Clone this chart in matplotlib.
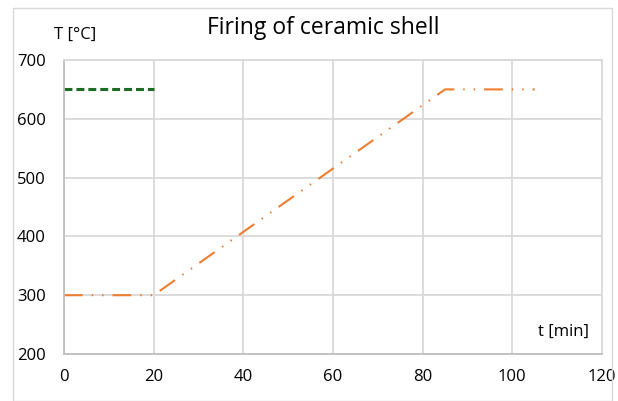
import matplotlib.pyplot as plt
from matplotlib.patches import Rectangle

# firing schedule
t_min = [0, 20, 85, 105]
temp_c = [300, 300, 650, 650]

# target temperature reference line
t_ref = [0, 20]
temp_ref = [650, 650]

x_ticks = [0, 20, 40, 60, 80, 100, 120]
y_ticks = [200, 300, 400, 500, 600, 700]

plt.rcParams['font.family'] = ['Open Sans', 'DejaVu Sans']

fig = plt.figure(figsize=(6.18, 4.01), dpi=100)
ax = fig.add_axes([64 / 618, 1 - 354 / 401, (602 - 64) / 618, (354 - 60) / 401])

# chart frame like an Excel chart area
fig.patches.append(Rectangle((13 / 618, 0.0), (612 - 13) / 618, 1 - 8 / 401,
                             transform=fig.transFigure, fill=False,
                             edgecolor='#d9d9d9', linewidth=1.0))

ax.plot(t_min, temp_c, color='#ed7d31', linewidth=1.5,
        linestyle=(0, (9, 4.3, 0.7, 4.3, 0.7, 4.3)))
ax.plot(t_ref, temp_ref, color='#1e6b24', linewidth=2.2,
        linestyle=(0, (2.6, 1.3)))

ax.set_xlim(0, 120)
ax.set_ylim(200, 700)
ax.set_xticks(x_ticks)
ax.set_yticks(y_ticks)
ax.tick_params(length=0, labelsize=12, pad=11, colors='#000000')
ax.tick_params(axis='y', pad=13)
ax.grid(True, color='#d9d9d9', linewidth=1.3)
ax.set_axisbelow(True)
for side in ['top', 'right']:
    ax.spines[side].set_color('#d9d9d9')
    ax.spines[side].set_linewidth(1.3)
for side in ['left', 'bottom']:
    ax.spines[side].set_color('#bfbfbf')
    ax.spines[side].set_linewidth(1.3)

fig.text(323 / 618, 1 - 28 / 401, 'Firing of ceramic shell', fontsize=16.5,
         ha='center', va='center')
fig.text(54 / 618, 1 - 35 / 401, 'T [°C]', fontsize=12, ha='left', va='center')
ax.text(0.975, 0.075, 't [min]', transform=ax.transAxes, fontsize=12,
        ha='right', va='center')

fig.savefig('out.png', dpi=100)
